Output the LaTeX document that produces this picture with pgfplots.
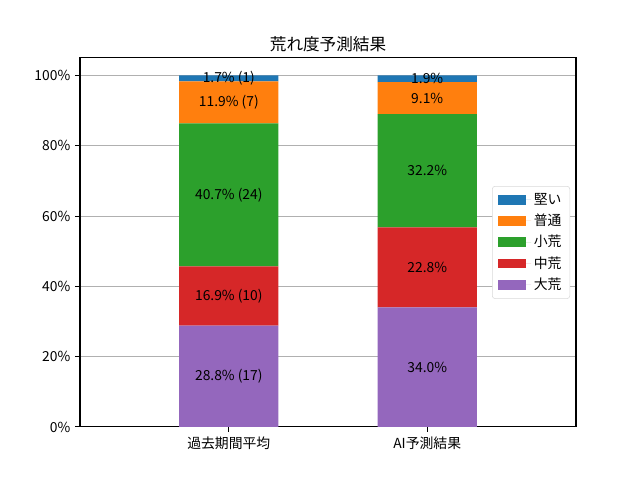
\documentclass[border=0pt]{standalone}
\usepackage{fontspec}
\setmainfont{Noto Sans CJK JP}
\usepackage{pgfplots}
\pgfplotsset{compat=1.18}
\definecolor{c1}{HTML}{1F77B4}
\definecolor{c2}{HTML}{FF7F0E}
\definecolor{c3}{HTML}{2CA02C}
\definecolor{c4}{HTML}{D62728}
\definecolor{c5}{HTML}{9467BD}
\pgfplotsset{
  base/.style={
    scale only axis, width=4.96in, height=3.69in,
    xmin=-0.75, xmax=1.75, ymin=0, ymax=105,
    /pgf/number format/assume math mode=true,
    tick label style={font=\fontsize{10}{12}\selectfont},
  }
}
\begin{document}
\begin{tikzpicture}
\begin{axis}[base,
  ybar stacked, bar width=0.5,
  xtick={0,1}, xticklabels={過去期間平均,AI予測結果},
  ytick={0,20,40,60,80,100},
  yticklabels={0\%,20\%,40\%,60\%,80\%,100\%},
  ymajorgrids, grid style={color=black!31, line width=0.8pt},
  axis line style={line width=0.8pt},
  tick style={black, line width=0.8pt},
  tick align=outside, major tick length=3.5pt,
  xtick pos=bottom, ytick pos=left,
  axis on top=false,
  title={荒れ度予測結果},
  title style={font=\fontsize{12}{14}\selectfont, yshift=-5pt},
  clip=false,
  reverse legend,
  legend style={at={(0.988,0.5)}, anchor=east, draw=black!15, rounded corners=2pt,
    font=\fontsize{10}{12}\selectfont, row sep=1.5pt, inner xsep=4pt, inner ysep=3pt},
  legend cell align=left,
  legend image code/.code={\fill[#1, sharp corners] (0pt,-3.5pt) rectangle (20pt,3.5pt);
    \path (0pt,0pt) -- (24pt,0pt);},
]
\addplot[fill=c5, draw=none] coordinates {(0,28.8) (1,34.0)};
\addlegendentry{大荒}
\addplot[fill=c4, draw=none] coordinates {(0,16.9) (1,22.8)};
\addlegendentry{中荒}
\addplot[fill=c3, draw=none] coordinates {(0,40.7) (1,32.2)};
\addlegendentry{小荒}
\addplot[fill=c2, draw=none] coordinates {(0,11.9) (1,9.1)};
\addlegendentry{普通}
\addplot[fill=c1, draw=none] coordinates {(0,1.7) (1,1.9)};
\addlegendentry{堅い}
\path (rel axis cs:-0.1613,-0.1436) rectangle (rel axis cs:1.129,1.157);
\end{axis}
\begin{axis}[base, hide axis,
  nodes near coords, point meta=explicit symbolic,
  nodes near coords align={center},
  every node near coord/.append style={font=\fontsize{10}{12}\selectfont, anchor=center, inner sep=0pt},
]
\addplot[draw=none, mark=none] coordinates {
  (0,14.4) [28.8\% (17)]
  (0,37.25) [16.9\% (10)]
  (0,66.05) [40.7\% (24)]
  (0,92.35) [11.9\% (7)]
  (0,99.15) [1.7\% (1)]
  (1,17.0) [34.0\%]
  (1,45.4) [22.8\%]
  (1,72.9) [32.2\%]
  (1,93.55) [9.1\%]
  (1,99.05) [1.9\%]
};
\end{axis}
\end{tikzpicture}
\end{document}
